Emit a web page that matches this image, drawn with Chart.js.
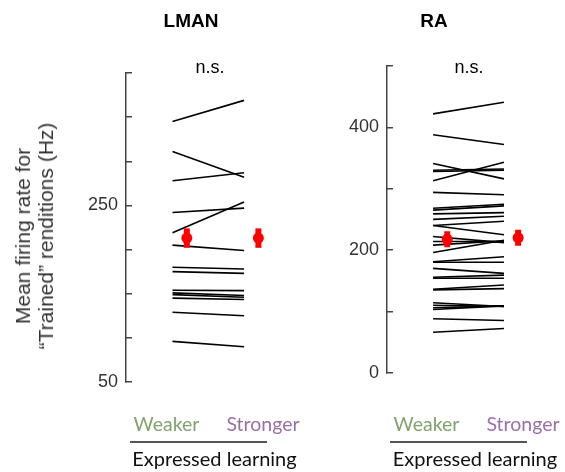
<!DOCTYPE html>
<html><head><meta charset="utf-8">
<script src="https://cdn.jsdelivr.net/npm/chart.js@4.4.0/dist/chart.umd.min.js"></script>
<style>
body{margin:0;width:565px;height:472px;background:#fff;position:relative;overflow:hidden;font-family:"Liberation Sans",Arial,sans-serif;}
canvas{position:absolute;top:0;}
.t{position:absolute;white-space:nowrap;transform:translate(-50%,-50%);line-height:1;}
.ttl{font-weight:bold;font-size:19px;color:#000;}
.ns{font-size:18px;color:#000;}
.lb{font-family:Lato,"Open Sans",sans-serif;font-size:19.5px;}
.ex{font-size:20px;}
.ul{position:absolute;height:2px;background:#555;}
.yt{position:absolute;white-space:nowrap;text-align:center;font-size:21px;line-height:23px;color:#333;transform:translate(-50%,-50%) rotate(-90deg);}
</style></head><body>
<canvas id="c1" width="300" height="472" style="left:0;width:300px;height:472px"></canvas>
<canvas id="c2" width="265" height="472" style="left:300px;width:265px;height:472px"></canvas>
<div id="ytitle" class="yt" style="left:33.5px;top:236px"></div>
<div class="t ttl" style="left:191px;top:19.5px">LMAN</div>
<div class="t ttl" style="left:434px;top:19.5px">RA</div>
<div class="t ns" style="left:210px;top:67px">n.s.</div>
<div class="t ns" style="left:469px;top:67px">n.s.</div>
<div class="t lb" style="left:166.5px;top:423.5px;color:#82a26e">Weaker</div>
<div class="t lb" style="left:263px;top:423.5px;color:#9b6fa9">Stronger</div>
<div class="ul" style="left:130px;top:440.5px;width:137px"></div>
<div class="t lb ex" style="left:214.5px;top:457.5px;color:#111">Expressed learning</div>
<div class="t lb" style="left:426.5px;top:423.5px;color:#82a26e">Weaker</div>
<div class="t lb" style="left:523px;top:423.5px;color:#9b6fa9">Stronger</div>
<div class="ul" style="left:390px;top:440.5px;width:137px"></div>
<div class="t lb ex" style="left:475px;top:457.5px;color:#111">Expressed learning</div>
<script>
// ---- data (Hz) ----
const conditions = ['Weaker', 'Stronger'];
const lmanWeaker   = [345, 311, 278, 242, 219, 205, 180, 175, 154, 151, 149, 145, 129, 96];
const lmanStronger = [369, 282, 287, 247, 254, 199, 178, 173, 153.5, 148, 146, 143.5, 125, 90];
const lmanMean = [213, 213];
const lmanErr  = [11, 11];
const raWeaker   = [422, 388, 341, 330, 328, 313, 294, 268, 265, 259, 250, 240, 240, 222, 214, 208, 196, 181, 180, 170, 155.5, 154, 136, 135, 114, 110, 106, 103, 88, 66];
const raStronger = [441, 372, 316, 332, 330, 343, 290, 274.5, 272, 261, 255, 247, 225, 212, 214, 215, 216, 189, 180, 162, 159, 154, 143, 137, 108, 108, 109, 109, 85, 72];
const raMean = [217.5, 220];
const raErr  = [13, 13];
const lmanTickValues = [50, 100, 150, 200, 250, 300, 350, 400];
const lmanTickLabels = [50, 250];
const raTickValues = [0, 100, 200, 300, 400, 500];
const raTickLabels = [0, 200, 400];
const yTitle = ['Mean firing rate for', '\u201CTrained\u201D renditions (Hz)'];

document.getElementById('ytitle').innerHTML = yTitle.join('<br>');

// x positions of the two conditions (category index 1 and 2)
const X_POS = [1, 2];
const DOT_SHIFT = 0.2;

function buildDatasets(weak, strong, mean, err) {
  const ds = [];
  // red means + error bars (first => drawn on top)
  ds.push({
    type: 'scatter',
    data: X_POS.map((x, i) => ({x: x + DOT_SHIFT, y: mean[i]})),
    pointRadius: 5.5, pointHoverRadius: 5.5,
    backgroundColor: '#ff0000', borderColor: '#ff0000', borderWidth: 0,
    showLine: false
  });
  X_POS.forEach((x, i) => {
    ds.push({
      type: 'line',
      data: [{x: x + DOT_SHIFT, y: mean[i] - err[i]}, {x: x + DOT_SHIFT, y: mean[i] + err[i]}],
      borderColor: '#ff0000', borderWidth: 6, pointRadius: 0, borderCapStyle: 'butt', fill: false
    });
  });
  weak.forEach((w, i) => {
    ds.push({
      type: 'line',
      data: [{x: X_POS[0], y: w}, {x: X_POS[1], y: strong[i]}],
      borderColor: '#000', borderWidth: 1.6, pointRadius: 0, fill: false, tension: 0
    });
  });
  return ds;
}

function yAxis(min, max, tickValues, tickLabels, width) {
  return {
    type: 'linear', min: min, max: max,
    afterBuildTicks: s => { s.ticks = tickValues.map(v => ({value: v})); },
    afterFit: s => { s.width = width; },
    ticks: {
      autoSkip: false, padding: 14, color: '#333',
      font: {family: 'Liberation Sans', size: 18},
      callback: v => tickLabels.includes(v) ? String(v) : ''
    },
    grid: {drawOnChartArea: false, drawTicks: true, tickLength: -6, color: '#444', lineWidth: 1.5},
    border: {display: true, color: '#444', width: 1.5},
    title: {display: false}
  };
}

function makeChart(id, weak, strong, mean, err, yOpts, pad) {
  return new Chart(document.getElementById(id), {
    data: {datasets: buildDatasets(weak, strong, mean, err)},
    options: {
      responsive: false, animation: false, devicePixelRatio: 1,
      layout: {padding: pad},
      plugins: {legend: {display: false}, tooltip: {enabled: false}, title: {display: false}},
      scales: {
        x: {type: 'linear', min: 0.35, max: 2.6, display: false},
        y: yOpts
      }
    }
  });
}

makeChart('c1', lmanWeaker, lmanStronger, lmanMean, lmanErr,
  yAxis(50, 400, lmanTickValues, lmanTickLabels, 126),
  {left: 0, top: 73, right: 13, bottom: 90});
makeChart('c2', raWeaker, raStronger, raMean, raErr,
  yAxis(0, 500, raTickValues, raTickLabels, 87),
  {left: 0, top: 66, right: 18.5, bottom: 99.3});
</script>
</body></html>
